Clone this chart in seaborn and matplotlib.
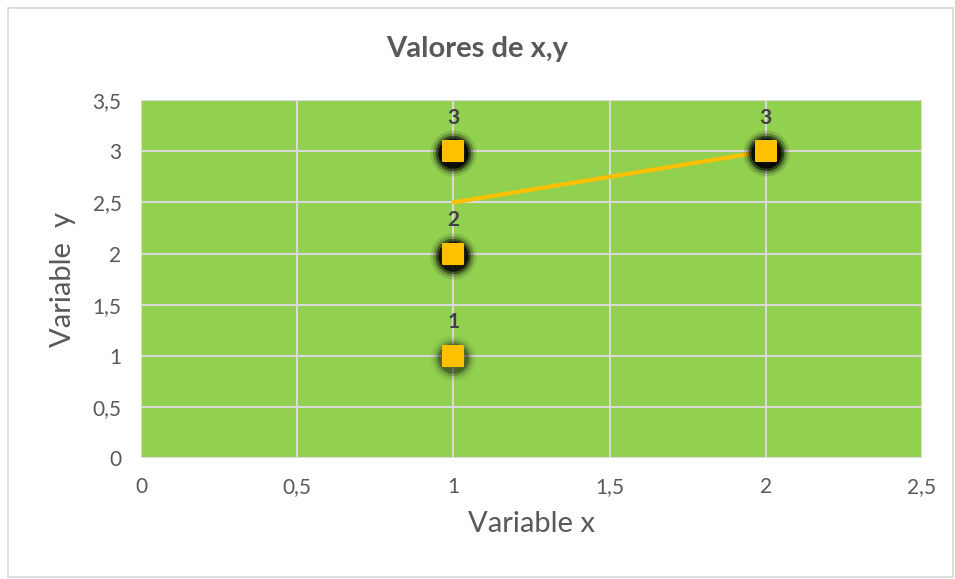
import matplotlib
matplotlib.use("Agg")
import matplotlib.pyplot as plt
import seaborn as sns
import pandas as pd
from matplotlib.patches import Rectangle

# data
x_vals = [1, 1, 1, 2]
y_vals = [1, 2, 3, 3]
labels = ["1", "2", "3", "3"]
glow = [0.35, 0.85, 0.95, 1.0]   # how dark the shadow under each point looks
line_x = [1, 2]
line_y = [2.5, 3]

xticks = [0, 0.5, 1, 1.5, 2, 2.5]
yticks = [0, 0.5, 1, 1.5, 2, 2.5, 3, 3.5]

df = pd.DataFrame({"x": x_vals, "y": y_vals})

sns.set_style("white")
plt.rcParams["font.family"] = ["Lato", "DejaVu Sans"]

fig = plt.figure(figsize=(9.55, 5.79), dpi=100)
ax = fig.add_axes([0.1476, 0.209, 0.8178, 0.618])

# chart frame
fig.patches.append(Rectangle((0.008, 0.003), 0.99, 0.983, transform=fig.transFigure,
                             fill=False, edgecolor="#D9D9D9", linewidth=1.2))

ax.set_facecolor("#92D050")
ax.set_xlim(0, 2.5)
ax.set_ylim(0, 3.5)
ax.set_xticks(xticks)
ax.set_yticks(yticks)
ax.set_xticklabels([str(t).replace(".", ",").replace(",0", "") for t in xticks])
ax.set_yticklabels([str(t).replace(".", ",").replace(",0", "") for t in yticks])
ax.grid(True, color="#D9D9D9", linewidth=1.5)
ax.set_axisbelow(True)
for s in ax.spines.values():
    s.set_visible(False)
ax.tick_params(length=0, labelsize=15, labelcolor="#595959", pad=14)

ax.plot(line_x, line_y, color="#FFC000", linewidth=3, zorder=3)

# soft black glow under the markers
for i in range(len(x_vals)):
    for size, a in [(1100, 0.12), (850, 0.25), (650, 0.5), (480, 0.85)]:
        ax.scatter(x_vals[i], y_vals[i] - 0.02, s=size, color="black",
                   alpha=a * glow[i], linewidths=0, zorder=4)

sns.scatterplot(data=df, x="x", y="y", marker="s", s=190, color="#FFC000",
                edgecolor="#FFC000", linewidth=1.5, ax=ax, zorder=5)

for xi, yi, lab in zip(x_vals, y_vals, labels):
    ax.text(xi, yi + 0.33, lab, ha="center", va="center", fontsize=15,
            fontweight="bold", color="#404040", zorder=6)

ax.set_xlabel("Variable x", fontsize=21, color="#595959", labelpad=10)
ax.set_ylabel("Variable  y", fontsize=21, color="#595959", labelpad=12)
fig.text(0.5, 0.915, "Valores de x,y", ha="center", va="center", fontsize=21,
         fontweight="bold", color="#595959")

fig.savefig("out.png", dpi=100)
